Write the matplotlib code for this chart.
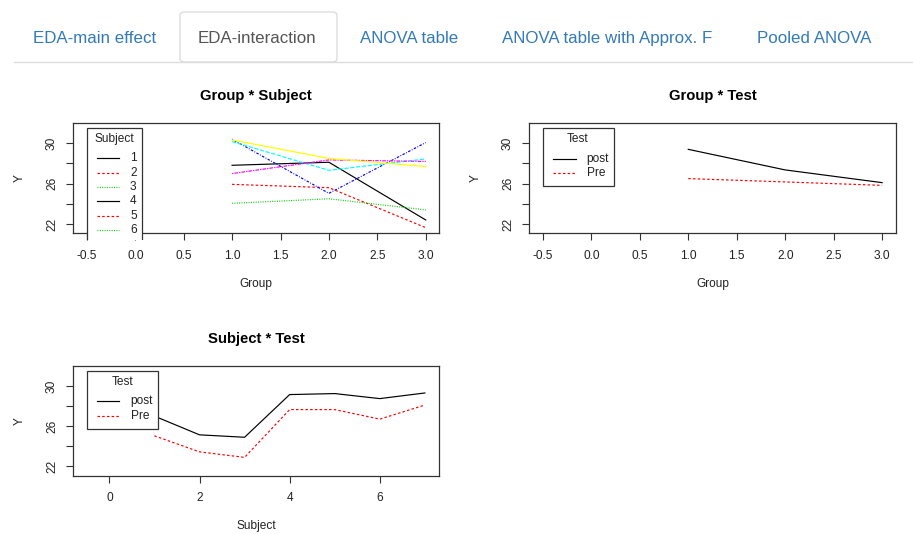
import matplotlib
matplotlib.use("Agg")
import matplotlib.pyplot as plt
from matplotlib.patches import Rectangle, FancyBboxPatch
from matplotlib.lines import Line2D
from matplotlib.transforms import Bbox

plt.rcParams['font.family'] = ['Liberation Sans', 'DejaVu Sans']
plt.rcParams['lines.scale_dashes'] = False

# ---------------- data ----------------
groups = [1, 2, 3]
subjects = [1, 2, 3, 4, 5, 6, 7]
subject_means = {
    1: [27.82, 28.12, 22.40],
    2: [25.93, 25.60, 21.64],
    3: [24.05, 24.50, 23.40],
    4: [30.40, 25.04, 30.07],
    5: [30.17, 27.32, 28.45],
    6: [27.00, 28.35, 28.20],
    7: [30.33, 28.50, 27.70],
}
group_post = [29.40, 27.36, 26.10]
group_pre = [26.50, 26.17, 25.83]
subj_post = [27.00, 25.14, 24.90, 29.14, 29.24, 28.74, 29.30]
subj_pre = [25.04, 23.45, 22.90, 27.65, 27.65, 26.70, 28.10]
test_levels = ["post", "Pre"]
tabs = ["EDA-main effect", "EDA-interaction", "ANOVA table",
        "ANOVA table with Approx. F", "Pooled ANOVA"]

# ---------------- styles ----------------
W, H = 913, 534
r_cols = ['black', '#FF0000', '#00CD00', '#0000FF', '#00FFFF', '#FF00FF', '#FFFF00']
DASH = (0, (1.8, 1.6))
DOT = (0, (0.7, 1.0))
r_ltys = ['-', DASH, DOT, (0, (0.6, 1.1, 1.8, 1.1)),
          (0, (3.0, 1.2)), (0, (0.9, 0.8, 2.6, 0.8))]
LW = 0.85
SMALL = 8.6

fig = plt.figure(figsize=(W / 100, H / 100), dpi=100)


def fx(x):
    return x / W


def fy(y):
    return 1 - y / H


def add_axes(l, t, r, b):
    return fig.add_axes([fx(l), fy(b), (r - l) / W, (b - t) / H])


def style(ax, xlim, xticks, xlabels, title, xlabel):
    ax.set_xlim(*xlim)
    ax.set_ylim(21.08, 31.98)
    ax.set_xticks(xticks)
    ax.set_xticklabels(xlabels)
    ax.set_yticks([22, 24, 26, 28, 30])
    ax.set_yticklabels(['22', '', '26', '', '30'], rotation=90, va='center')
    ax.tick_params(length=5, width=0.8, color='#333333', labelsize=SMALL,
                   labelcolor='#222222')
    ax.tick_params(axis='x', pad=7)
    ax.tick_params(axis='y', pad=6)
    for s in ax.spines.values():
        s.set_color('#333333')
        s.set_linewidth(0.9)
    ax.text(0.5, 1.245, title, transform=ax.transAxes, ha='center', va='center',
            fontsize=10.7, fontweight='bold', color='black')
    ax.text(0.5, -0.46, xlabel, transform=ax.transAxes, ha='center', va='center',
            fontsize=SMALL, color='#222222')
    ax.text(-0.145, 0.5, 'Y', transform=ax.transAxes, ha='center', va='center',
            rotation=90, fontsize=SMALL, color='#222222')


def legend(left, top, right, bottom, title, tx, ty, entries, clip_y=None, text_clip_y=None):
    clip = None
    tclip = None
    if clip_y is not None:
        clip = Bbox.from_extents(0, H - clip_y, W, H)
        tclip = Bbox.from_extents(0, H - text_clip_y, W, H)
    rect = Rectangle((fx(left), fy(bottom)), (right - left) / W, (bottom - top) / H,
                     transform=fig.transFigure, facecolor='white',
                     edgecolor='#333333', linewidth=0.9)
    fig.add_artist(rect)
    if clip is not None:
        rect.set_clip_box(clip)
    fig.text(fx(tx), fy(ty), title, ha='center', va='center',
             fontsize=SMALL, color='#222222')
    for (lx0, lx1, y, txt_x, lab, col, ls) in entries:
        ln = Line2D([fx(lx0), fx(lx1)], [fy(y), fy(y)], transform=fig.transFigure,
                    color=col, linestyle=ls, linewidth=LW)
        fig.add_artist(ln)
        tt = fig.text(fx(txt_x), fy(y), lab, ha='left', va='center',
                      fontsize=SMALL, color='#222222')
        if clip is not None:
            ln.set_clip_box(tclip)
            tt.set_clip_box(tclip)
            tt.set_clip_on(True)


# ---------------- tab bar ----------------
fig.add_artist(Line2D([fx(14), fx(913)], [fy(62), fy(62)], transform=fig.transFigure,
                      color='#dddddd', linewidth=1.0))
fig.add_artist(FancyBboxPatch((fx(180), fy(62)), (337 - 180) / W, 50 / H,
                              boxstyle="round,pad=0,rounding_size=0.006",
                              transform=fig.transFigure, facecolor='white',
                              edgecolor='#dddddd', linewidth=1.0))
tab_x = [33, 198, 360, 502, 757]
for i, (lab, x) in enumerate(zip(tabs, tab_x)):
    fig.text(fx(x), fy(38.5), lab, ha='left', va='center', fontsize=12.2,
             color='#555555' if i == 1 else '#337ab7')

# ---------------- plot 1: Group * Subject ----------------
ax1 = add_axes(73.3, 123.3, 439.3, 233.3)
for i, s in enumerate(subjects):
    ax1.plot(groups, subject_means[s], color=r_cols[i % 7],
             linestyle=r_ltys[i % 6], linewidth=LW)
style(ax1, (-0.64, 3.14), [-0.5, 0, 0.5, 1, 1.5, 2, 2.5, 3],
      ['-0.5', '0.0', '0.5', '1.0', '1.5', '2.0', '2.5', '3.0'],
      'Group * Subject', 'Group')
leg_cols = ['black', '#FF0000', '#00CD00']
leg_lty = ['-', DASH, DOT]
entries1 = []
# only the first six entries are visible; the legend runs off the plot region
for i, s in enumerate(subjects[:6]):
    entries1.append((97, 119, 158.3 + 14.35 * i, 130, str(s),
                     leg_cols[i % 3], leg_lty[i % 3]))
legend(86.7, 127.7, 142.3, 262, 'Subject', 114, 139, entries1,
       clip_y=240, text_clip_y=235)

# ---------------- plot 2: Group * Test ----------------
ax2 = add_axes(529.3, 123.3, 895.7, 233.3)
ax2.plot(groups, group_post, color='black', linestyle='-', linewidth=LW)
ax2.plot(groups, group_pre, color='#FF0000', linestyle=DASH, linewidth=LW)
style(ax2, (-0.64, 3.14), [-0.5, 0, 0.5, 1, 1.5, 2, 2.5, 3],
      ['-0.5', '0.0', '0.5', '1.0', '1.5', '2.0', '2.5', '3.0'],
      'Group * Test', 'Group')
legend(543.3, 127.7, 614, 186, 'Test', 577.3, 139,
       [(553.3, 575.7, 158.7, 586.7, test_levels[0], 'black', '-'),
        (553.3, 575.7, 172.7, 586.7, test_levels[1], '#FF0000', DASH)])

# ---------------- plot 3: Subject * Test ----------------
ax3 = add_axes(73.3, 366, 439.3, 475.7)
ax3.plot(subjects, subj_post, color='black', linestyle='-', linewidth=LW)
ax3.plot(subjects, subj_pre, color='#FF0000', linestyle=DASH, linewidth=LW)
style(ax3, (-0.8, 7.32), [0, 2, 4, 6], ['0', '2', '4', '6'],
      'Subject * Test', 'Subject')
legend(87.3, 370.7, 158.3, 429, 'Test', 122.3, 381.7,
       [(97.3, 119.3, 401, 130.7, test_levels[0], 'black', '-'),
        (97.3, 119.3, 415.7, 130.7, test_levels[1], '#FF0000', DASH)])

fig.savefig('out.png', dpi=100, facecolor='white')
